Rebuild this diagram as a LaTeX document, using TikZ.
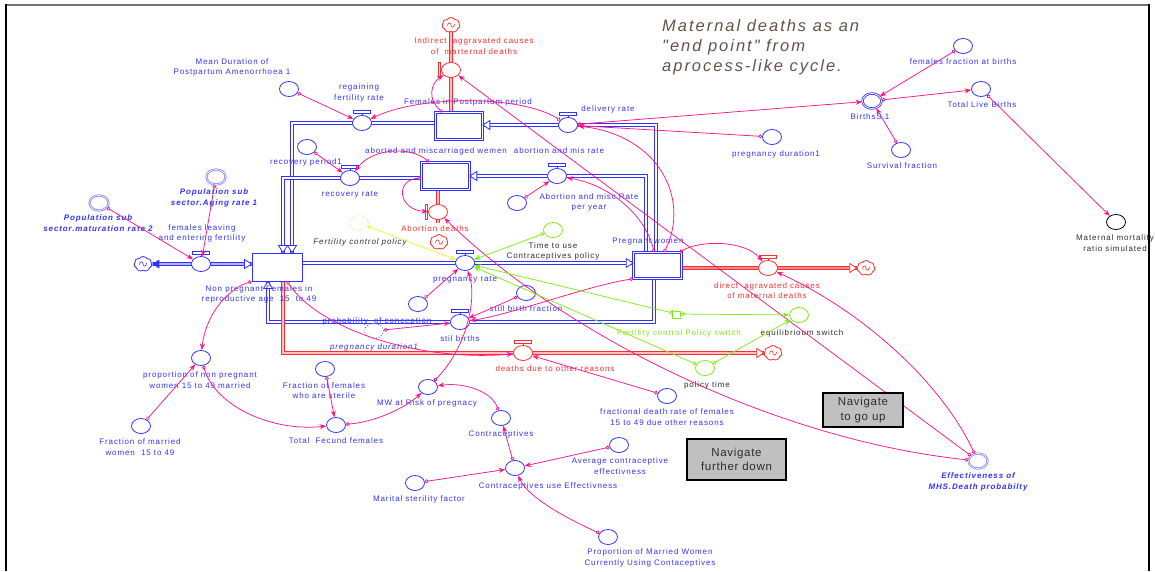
\documentclass[tikz,border=0pt]{standalone}
\usepackage{fontspec}
\setmainfont{Liberation Sans}
\newfontfamily\labfont{Liberation Sans}[LetterSpace=11]
\newfontfamily\navfont{Liberation Sans}[LetterSpace=6]
\newfontfamily\titfont{Liberation Sans}[LetterSpace=12]
\usetikzlibrary{arrows.meta,shapes.geometric,shapes.symbols}
\pgfdeclarelayer{bg}
\pgfsetlayers{bg,main}
\definecolor{cblue}{RGB}{50,50,255}
\definecolor{ghostblue}{RGB}{135,135,255}
\definecolor{cred}{RGB}{255,45,45}
\definecolor{cpink}{RGB}{255,20,140}
\definecolor{cgreen}{RGB}{130,235,20}
\definecolor{cyel}{RGB}{240,240,60}
\definecolor{cyg}{RGB}{190,240,90}
\definecolor{dgray}{RGB}{45,45,45}
\definecolor{ctitle}{RGB}{100,82,72}
\definecolor{navgray}{RGB}{192,192,192}
\tikzset{
  conv/.style={ellipse, draw=cblue, fill=white, line width=0.8pt, minimum width=19pt, minimum height=15pt, inner sep=0pt},
  rconv/.style={conv, draw=cred},
  gconv/.style={conv, draw=cgreen},
  kconv/.style={conv, draw=black},
  dotconv/.style={conv, dotted},
  ghost/.style={conv, draw=ghostblue, double=white, double distance=0.6pt},
  ygh/.style={conv, draw=cyg, dotted},
  dblconv/.style={conv, double=white, double distance=0.8pt},
  stock/.style={rectangle, draw=cblue, fill=white, line width=0.7pt, double=white, double distance=1.2pt, inner sep=0pt},
  stockone/.style={rectangle, draw=cblue, fill=white, line width=0.9pt, inner sep=0pt},
  swbox/.style={rectangle, draw=cgreen, fill=white, line width=0.6pt, double=white, double distance=0.8pt, minimum width=8pt, minimum height=7pt, inner sep=0pt},
  bcloud/.style={cloud, cloud puffs=7, cloud puff arc=110, aspect=1.15, draw=cblue, fill=white, line width=0.8pt, minimum width=18pt, minimum height=15pt, inner sep=0pt},
  rcloud/.style={bcloud, draw=cred},
  lab/.style={font=\labfont\fontsize{8}{10.5}\selectfont, text=cblue, align=center, inner sep=0pt},
  ilab/.style={lab, font=\labfont\itshape\fontsize{8}{10.5}\selectfont},
  bilab/.style={lab, font=\labfont\bfseries\itshape\fontsize{8}{10.5}\selectfont},
  rlab/.style={lab, text=cred},
  klab/.style={lab, text=dgray},
  kilab/.style={ilab, text=dgray},
  glab/.style={lab, text=cgreen},
  navbox/.style={rectangle, draw=black, fill=navgray, line width=1.3pt, align=center, font=\navfont\fontsize{11.5}{14.5}\selectfont, text=dgray, inner sep=0pt},
  pipe/.style={draw=cblue, line width=1.1pt, double=white, double distance=1.4pt},
  rpipe/.style={draw=cred, line width=1.1pt, double=red!25, double distance=1.4pt},
  conn/.style={draw=cpink, line width=0.75pt, arrows={Circle[open,length=3.8pt,width=3.8pt]-Stealth[length=6.5pt,width=5pt]}},
  gconn/.style={conn, draw=cgreen},
  yconn/.style={conn, draw=cyel},
  pics/tbar/.style={code={
    \draw[#1, line width=0.8pt, fill=white] (-8.5,-12.5) rectangle (8.5,-9.8);
    \draw[#1, line width=0.8pt] (0,-9.8) -- (0,-7.5);
  }},
  pics/lbar/.style={code={
    \draw[#1, line width=0.8pt, fill=white] (-13,-7.5) rectangle (-10.5,7.5);
    \draw[#1, line width=0.8pt] (-10.5,0) -- (-9.5,0);
  }},
  pics/oarrow/.style={code={
    \draw[#1, line width=0.8pt, fill=white, line join=miter] (0,0) -- (-7,-4.5) -- (-7,4.5) -- cycle;
  }},
  pics/farrow/.style={code={
    \fill[#1] (0,0) -- (-7,-4.5) -- (-7,4.5) -- cycle;
  }},
  pics/swirl/.style={code={
    \draw[#1, line width=0.6pt] (-3.5,1) .. controls (-3.5,-3) and (0,-3) .. (0,0) .. controls (0,3) and (3.5,3) .. (3.5,-1);
  }}
}
\begin{document}
\begin{tikzpicture}[x=1pt,y=-1pt]
\useasboundingbox (0,0) rectangle (1155,571);
% frame
\draw[line width=2pt, black!55] (6,5) -- (1149,5);
\draw[line width=2pt, black] (6,571) -- (6,4);
\draw[line width=2pt, black] (1149,571) -- (1149,4);

% stocks
\node[stockone, minimum width=50pt, minimum height=28pt] (sNP) at (277,267) {};
\node[stock, minimum width=47pt, minimum height=27pt] (sPP) at (459,126) {};
\node[stock, minimum width=48pt, minimum height=27pt] (sAB) at (445.5,176) {};
\node[stock, minimum width=48pt, minimum height=26pt] (sPW) at (657.5,265.5) {};

% valves
\node[conv] (vRF) at (362,123) {};
\node[conv] (vRR) at (350,178) {};
\node[conv] (vDR) at (568,125) {};
\node[conv] (vAM) at (557,176) {};
\node[conv] (vFL) at (201,264) {};
\node[conv] (vPR) at (465,263) {};
\node[conv] (vSB) at (460,322) {};
\node[rconv] (vIA) at (451,70) {};
\node[rconv] (vAD) at (438,212) {};
\node[rconv] (vDA) at (768,268) {};
\node[rconv] (vDO) at (523,353) {};
\pic at (vRF) {tbar=cblue};
\pic at (vRR) {tbar=cblue};
\pic at (vDR) {tbar=cblue};
\pic at (vAM) {tbar=cblue};
\pic at (vFL) {tbar=cblue};
\pic at (vPR) {tbar=cblue};
\pic at (vSB) {tbar=cblue};
\pic at (vIA) {lbar=cred};
\pic at (vAD) {lbar=cred};
\pic at (vDA) {tbar=cred};
\pic at (vDO) {tbar=cred};

% clouds
\node[bcloud] (clL) at (143,264) {};
\node[rcloud] (clIA) at (451,25) {};
\node[rcloud] (clAD) at (439,242) {};
\node[rcloud] (clDA) at (866,268) {};
\node[rcloud] (clDO) at (773,353) {};
\pic at (clL) {swirl=cblue};
\pic at (clIA) {swirl=cred};
\pic at (clAD) {swirl=cred};
\pic at (clDA) {swirl=cred};
\pic at (clDO) {swirl=cred};

% pipes
\begin{pgfonlayer}{bg}
\draw[pipe] (clL.east) -- (sNP.west |- clL);
\draw[pipe] (sNP.east |- vPR) -- (sPW.west |- vPR);
\draw[pipe] ([xshift=-1.5pt]sPW.north) |- (sPP.east |- vDR);
\draw[pipe] ([xshift=-11.5pt]sPW.north) |- (sAB.east |- vAM);
\draw[pipe] (sPP.west |- vRF) -| ([xshift=15pt]sNP.north);
\draw[pipe] (sAB.west |- vRR) -| ([xshift=6pt]sNP.north);
\draw[pipe] ([xshift=-3.5pt]sPW.south) |- (vSB) -| ([xshift=-9pt]sNP.south);
\draw[rpipe] (vIA |- sPP.north) -- (vIA |- clIA.south);
\draw[rpipe] (vAD |- sAB.south) -- ([yshift=-3pt]vAD.south);
\draw[rpipe] (sPW.east |- vDA) -- (clDA.west);
\draw[rpipe] ([xshift=6pt]sNP.south) |- (clDO.west);
\end{pgfonlayer}
\pic at (sNP.west |- clL) {oarrow=cblue};
\pic[rotate=180] at (clL.east) {farrow=cblue};
\pic at (sPW.west |- vPR) {oarrow=cblue};
\pic[rotate=180] at (sPP.east |- vDR) {oarrow=cblue};
\pic[rotate=180] at (sAB.east |- vAM) {oarrow=cblue};
\pic[rotate=-90] at ([xshift=15pt]sNP.north) {oarrow=cblue};
\pic[rotate=-90] at ([xshift=6pt]sNP.north) {oarrow=cblue};
\pic[rotate=90] at ([xshift=-9pt]sNP.south) {oarrow=cblue};
\pic at (clDA.west) {oarrow=cred};
\pic at (clDO.west) {oarrow=cred};

% converters
\node[conv] (cMD) at (289,89) {};
\node[conv] (cRP) at (307,147) {};
\node[conv] (cAR) at (517,203) {};
\node[conv] (cPD1) at (772,137) {};
\node[conv] (cPoC) at (418,304) {};
\node[dotconv] (gPD) at (374,331) {};
\node[conv] (cSBF) at (526,293) {};
\node[conv] (cTF) at (336,425) {};
\node[conv] (cFS) at (325,369) {};
\node[conv] (cPNP) at (201,358) {};
\node[conv] (cFM) at (141,426) {};
\node[conv] (cMW) at (428,387) {};
\node[conv] (cC) at (501,418) {};
\node[conv] (cCUE) at (515,468) {};
\node[conv] (cACE) at (619,445) {};
\node[conv] (cMSF) at (415,483) {};
\node[conv] (cPMW) at (608,537) {};
\node[conv] (cFDR) at (667,396) {};
\node[conv] (cFFB) at (963,46) {};
\node[dblconv] (cB) at (872,101) {};
\node[conv] (cTLB) at (981,89) {};
\node[conv] (cSF) at (901,150) {};
\node[kconv] (cMMR) at (1116,222) {};
\node[ghost] (gAging) at (216,177) {};
\node[ghost] (gMat) at (99,203) {};
\node[ghost] (gEff) at (978,461) {};
\node[ygh] (gFCP) at (359,223) {};
\node[gconv] (cTU) at (553,230) {};
\node[swbox] (swFCP) at (677,314) {};
\node[gconv] (cEQ) at (799,315) {};
\node[gconv] (cPT) at (705,368) {};

% labels
\node[lab] (lMD) at (232,67.5) {Mean Duration of\\Postpartum Amenorrhoea 1};
\node[lab] (lRF) at (359,93) {regaining\\fertility rate};
\node[lab] (lPP) at (468,102) {Females in Postpartum period};
\node[lab] (lDR) at (608,109) {delivery rate};
\node[lab] (lAB) at (436,151) {aborted and miscarriaged wemen};
\node[lab, fill=white, inner xsep=1pt] (lAM) at (559,151) {abortion and mis rate};
\node[lab] (lRP) at (306,162) {recovery period1};
\node[lab] (lRR) at (350,195) {recovery rate};
\node[lab] (lAR) at (589,202.5) {Abortion and misc Rate\\per year};
\node[lab] (lPD1) at (776,154) {pregnancy duration1};
\node[lab] (lPW) at (648,242) {Pregnant women};
\node[lab] (lNP) at (259,294.5) {Non pregnant Females in\\reproductive age \ 15 \ to 49};
\node[lab] (lFL) at (202,233.5) {females leaving\\and entering fertility};
\node[lab] (lPR) at (465,280) {pregnancy rate};
\node[lab] (lPoC) at (377,321) {probability \ of conception};
\node[lab] (lSBF) at (526,309) {still birth fraction};
\node[lab] (lSB) at (460,339) {stil births};
\node[lab] (lPNP) at (200,380) {proportion of non pregnant\\women 15 to 49 married};
\node[lab] (lFM) at (140,447) {Fraction of married\\women \ 15 to 49};
\node[lab] (lFS) at (324,390.5) {Fraction of females\\who are sterile};
\node[lab] (lTF) at (336,441) {Total \ Fecund females};
\node[lab] (lMW) at (427,403) {MW at Risk of pregnacy};
\node[lab] (lC) at (501,434) {Contraceptives};
\node[lab] (lCUE) at (548,486) {Contraceptives use Effectivness};
\node[lab] (lACE) at (620,466) {Average contraceptive\\effectivness};
\node[lab] (lMSF) at (419,499) {Marital sterility factor};
\node[lab] (lPMW) at (650,558) {Proportion of Married Women\\Currently Using Contaceptives};
\node[lab] (lFDR) at (667,417) {fractional death rate of females\\15 to 49 due other reasons};
\node[lab] (lFFB) at (963,62) {females fraction at births};
\node[lab] (lB) at (870,117) {BirthsS 1};
\node[lab] (lTLB) at (982,105) {Total Live Births};
\node[lab] (lSF) at (902,166) {Survival fraction};
\node[ilab] (lgPD) at (374,347) {pregnancy duration1};
\node[bilab] (lgAging) at (214,198) {Population sub\\sector.Aging rate 1};
\node[bilab] (lgMat) at (98,223) {Population sub\\sector.maturation rate 2};
\node[bilab] (lgEff) at (978,482) {Effectiveness of\\MHS.Death probabilty};
\node[rlab] (lIA) at (474,46) {Indirect \ aggravated causes\\of \ marternal deaths};
\node[rlab] (lAD) at (435,229) {Abortion deaths};
\node[rlab] (lDA) at (767,290.5) {direct \ agravated causes\\of maternal deaths};
\node[rlab] (lDO) at (555,369) {deaths due to other reasons};
\node[klab] (lTU) at (553,251.5) {Time to use\\Contraceptives policy};
\node[klab] (lEQ) at (802,333) {equilibrioum switch};
\node[klab] (lPT) at (707,385) {policy time};
\node[klab] (lMMR) at (1115,243) {Maternal mortality\\ratio simulated};
\node[kilab] (lFCP) at (360,242) {Fertility control policy};
\node[glab] (lSW) at (679,333) {Fertility control Policy switch};
\node[anchor=west, align=left, inner sep=0pt, font=\titfont\itshape\fontsize{16.5}{20}\selectfont, text=ctitle] (title) at (662,47) {Maternal deaths as an\\"end point" from\\aprocess-like cycle.};

% connectors
\draw[conn] (cMD) -- (vRF);
\draw[conn] (vDR) .. controls (520,95) and (420,95) .. (vRF);
\draw[conn] (sPP) .. controls (428,100) and (430,84) .. (vIA);
\draw[conn] (cRP) -- (vRR);
\draw[conn] (sAB) .. controls (410,146) and (372,148) .. (vRR);
\draw[conn] (sAB) .. controls (395,180) and (398,210) .. (vAD);
\draw[conn] (cAR) -- (vAM);
\draw[conn] (sPW) .. controls (645,215) and (610,185) .. (vAM);
\draw[conn] (sPW) .. controls (690,200) and (660,135) .. (vDR);
\draw[conn] (sPW) .. controls (700,240) and (745,240) .. (vDA);
\draw[conn] (sPW.south west) .. controls (590,285) and (510,315) .. (vSB);
\draw[conn] (cSBF) -- (vSB);
\draw[conn] (vDR) -- (cB);
\draw[conn] (cPD1) -- (vDR);
\draw[conn] (cFFB) -- (cB);
\draw[conn] (cB) -- (cTLB);
\draw[conn] (cSF) -- (cB);
\draw[conn] (cTLB) -- (cMMR);
\draw[conn] (gEff) -- (vIA);
\draw[conn] (gEff) .. controls (940,380) and (860,310) .. (vDA);
\draw[conn] (gEff) .. controls (780,440) and (570,340) .. (vAD);
\draw[conn] (gAging) -- (vFL);
\draw[conn] (gMat) -- (vFL);
\draw[conn] (sNP.south west) .. controls (225,290) and (205,318) .. (cPNP);
\draw[conn] ([xshift=10pt]sNP.south) .. controls (320,330) and (420,362) .. (vDO);
\draw[conn] (cPoC) -- (vPR);
\draw[yconn] (gFCP) -- (vPR);
\draw[gconn] (cTU) -- (vPR);
\draw[gconn] (swFCP) -- (vPR);
\draw[gconn] (cPT) -- (vPR);
\draw[gconn] (swFCP) -- (cEQ);
\draw[gconn] (cPT) -- (cEQ);
\draw[conn] (gPD) -- (vSB);
\draw[conn] (cMW) .. controls (465,350) and (478,300) .. (vPR);
\draw[conn] (cTF) .. controls (375,422) and (405,408) .. (cMW);
\draw[conn] (cC) .. controls (492,392) and (465,382) .. (cMW);
\draw[conn] (cCUE) -- (cC);
\draw[conn] (cACE) -- (cCUE);
\draw[conn] (cMSF) -- (cCUE);
\draw[conn] (cPMW) .. controls (570,520) and (528,498) .. (cCUE);
\draw[conn] (cFS) -- (cTF);
\draw[conn] (cPNP) .. controls (215,405) and (270,432) .. (cTF);
\draw[conn] (cFM) -- (cPNP);
\draw[conn] (cFDR) -- (vDO);

% navigation buttons
\node[navbox, minimum width=80pt, minimum height=34pt] (nUp) at (863,410) {Navigate\\to go up};
\node[navbox, minimum width=99pt, minimum height=41pt] (nDown) at (736.5,459.5) {Navigate\\further down};
\end{tikzpicture}
\end{document}
